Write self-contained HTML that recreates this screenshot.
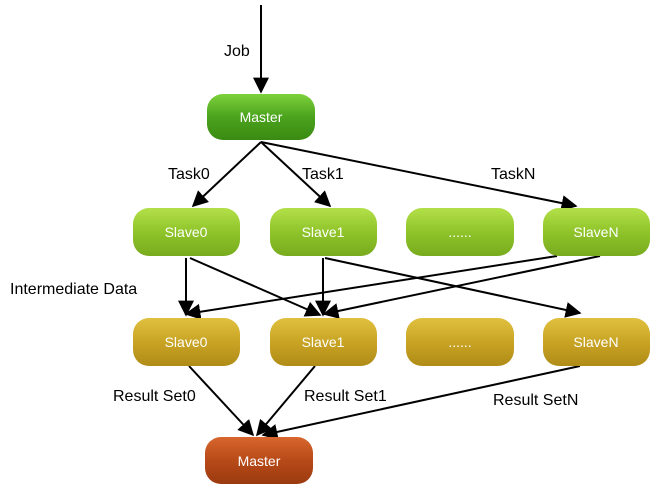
<!DOCTYPE html>
<html><head><meta charset="utf-8"><style>
body{margin:0;background:#fff;}
svg{display:block;font-family:"Liberation Sans",sans-serif;}
</style></head><body>
<svg width="657" height="493" viewBox="0 0 657 493" xmlns="http://www.w3.org/2000/svg">
<defs>
<linearGradient id="gm" x1="0" y1="0" x2="0" y2="1"><stop offset="0" stop-color="#7cd13a"/><stop offset="0.5" stop-color="#4ba31d"/><stop offset="1" stop-color="#3a8a12"/></linearGradient>
<linearGradient id="gs" x1="0" y1="0" x2="0" y2="1"><stop offset="0" stop-color="#b3e04a"/><stop offset="0.5" stop-color="#8fc42a"/><stop offset="1" stop-color="#78ab1e"/></linearGradient>
<linearGradient id="gy" x1="0" y1="0" x2="0" y2="1"><stop offset="0" stop-color="#e0c040"/><stop offset="0.5" stop-color="#c9a424"/><stop offset="1" stop-color="#b08c18"/></linearGradient>
<linearGradient id="gr" x1="0" y1="0" x2="0" y2="1"><stop offset="0" stop-color="#d8662e"/><stop offset="0.5" stop-color="#b84a18"/><stop offset="1" stop-color="#9a3a10"/></linearGradient>
<marker id="a" viewBox="0 0 10 10" refX="9" refY="5" markerWidth="8" markerHeight="8" orient="auto"><path d="M0,0 L10,5 L0,10 z" fill="#000"/></marker>
</defs>
<g stroke="#000" stroke-width="2" marker-end="url(#a)">
<line x1="261" y1="5" x2="261" y2="92"/>
<line x1="261" y1="142" x2="193" y2="206"/>
<line x1="261" y1="142" x2="330" y2="206"/>
<line x1="261" y1="142" x2="576" y2="206"/>
<line x1="186" y1="258" x2="186" y2="315"/>
<line x1="190" y1="258" x2="320" y2="315"/>
<line x1="323" y1="258" x2="323" y2="315"/>
<line x1="325" y1="258" x2="580" y2="313"/>
<line x1="557" y1="256" x2="186" y2="314"/>
<line x1="600" y1="256" x2="324" y2="314"/>
<line x1="189" y1="366" x2="253" y2="435"/>
<line x1="315" y1="366" x2="257" y2="435"/>
<line x1="580" y1="366" x2="263" y2="435"/>
</g>
<g>
<rect x="207" y="94" width="108" height="46" rx="16" fill="url(#gm)"/>
<rect x="133" y="208" width="107" height="48" rx="16" fill="url(#gs)"/>
<rect x="270" y="208" width="107" height="48" rx="16" fill="url(#gs)"/>
<rect x="406" y="208" width="108" height="48" rx="16" fill="url(#gs)"/>
<rect x="543" y="208" width="107" height="48" rx="16" fill="url(#gs)"/>
<rect x="133" y="318" width="107" height="48" rx="16" fill="url(#gy)"/>
<rect x="270" y="318" width="107" height="48" rx="16" fill="url(#gy)"/>
<rect x="406" y="318" width="108" height="48" rx="16" fill="url(#gy)"/>
<rect x="543" y="318" width="107" height="48" rx="16" fill="url(#gy)"/>
<rect x="205" y="437" width="108" height="47" rx="16" fill="url(#gr)"/>
</g>
<g fill="#fff" font-size="14" text-anchor="middle">
<text x="261" y="122">Master</text>
<text x="186" y="237">Slave0</text>
<text x="323" y="237">Slave1</text>
<text x="460" y="237">......</text>
<text x="596" y="237">SlaveN</text>
<text x="186" y="347">Slave0</text>
<text x="323" y="347">Slave1</text>
<text x="460" y="347">......</text>
<text x="596" y="347">SlaveN</text>
<text x="259" y="466">Master</text>
</g>
<g fill="#000" font-size="16">
<text x="224" y="56">Job</text>
<text x="168" y="179">Task0</text>
<text x="302" y="179">Task1</text>
<text x="491" y="179">TaskN</text>
<text x="10" y="294">Intermediate Data</text>
<text x="113" y="401">Result Set0</text>
<text x="304" y="401">Result Set1</text>
<text x="493" y="405">Result SetN</text>
</g>
</svg>
</body></html>
